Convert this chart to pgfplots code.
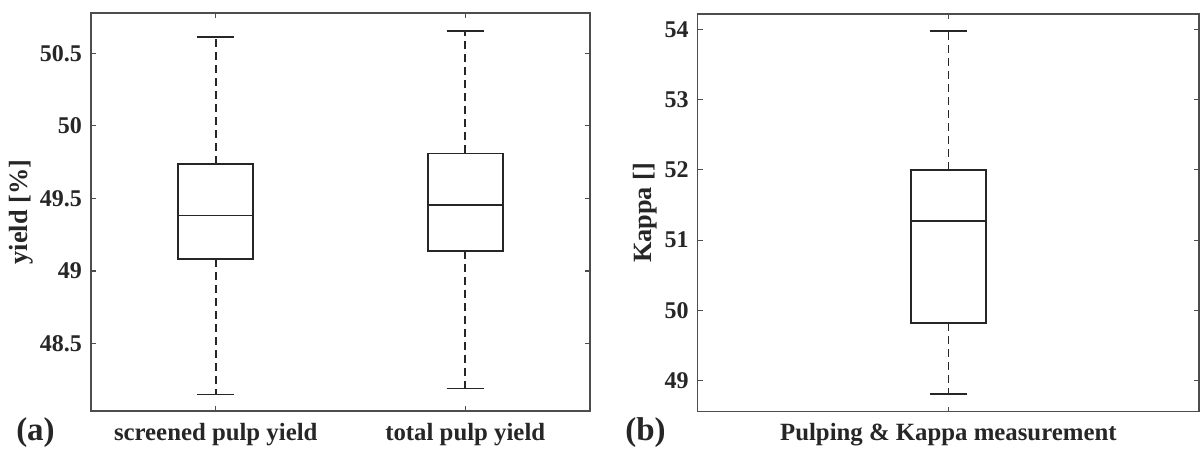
\documentclass[border=0pt]{standalone}
\usepackage{pgfplots}
\pgfplotsset{compat=1.18}
\usepgfplotslibrary{statistics}
\usepackage{fontspec}
\setmainfont{Liberation Serif}
\definecolor{axgray}{HTML}{4D4D4D}
\definecolor{txt}{HTML}{262626}
\pgfplotsset{
  mybox/.style={
    boxplot/draw direction=y,
    boxplot/every box/.style={draw=black!85, line width=1.8pt},
    boxplot/every median/.style={draw=black!85, line width=1.8pt},
    boxplot/draw/lower whisker/.code={%
      \draw[black!85, line width=1.7pt, dash pattern=on 8pt off 5pt]
        (boxplot cs:\pgfplotsboxplotvalue{lower quartile}) -- (boxplot cs:\pgfplotsboxplotvalue{lower whisker});
      \draw[black!85, line width=1.7pt]
        (boxplot whisker cs:\pgfplotsboxplotvalue{lower whisker},0) -- (boxplot whisker cs:\pgfplotsboxplotvalue{lower whisker},1);
    },
    boxplot/draw/upper whisker/.code={%
      \draw[black!85, line width=1.7pt, dash pattern=on 8pt off 5pt]
        (boxplot cs:\pgfplotsboxplotvalue{upper quartile}) -- (boxplot cs:\pgfplotsboxplotvalue{upper whisker});
      \draw[black!85, line width=1.7pt]
        (boxplot whisker cs:\pgfplotsboxplotvalue{upper whisker},0) -- (boxplot whisker cs:\pgfplotsboxplotvalue{upper whisker},1);
    },
  },
  myaxis/.style={
    anchor=south west,
    scale only axis,
    tick pos=both,
    tick align=inside,
    major tick length=5pt,
    axis line style={axgray, line width=1.2pt},
    every tick/.style={axgray, line width=1.1pt},
    /pgf/number format/assume math mode=true,
    yticklabel style={font=\fontsize{24}{28}\selectfont\bfseries, text=txt, inner sep=0pt, xshift=-9pt},
    xticklabel style={font=\fontsize{24.8}{30}\selectfont\bfseries, text=txt, anchor=base, yshift=-29pt},
    label style={font=\fontsize{26.3}{30}\selectfont\bfseries, text=txt},
  },
}
\begin{document}
\begin{tikzpicture}
\useasboundingbox (0,0) rectangle (1201pt,450pt);
\begin{axis}[myaxis, mybox,
  at={(91pt,39pt)}, width=499pt, height=398pt,
  xmin=0.5, xmax=2.5, ymin=48.035, ymax=50.778,
  xtick={1,2}, xticklabels={screened pulp yield, total pulp yield},
  ytick={48.5,49,49.5,50,50.5},
  boxplot/box extend=0.3, boxplot/whisker extend=0.15,
  ylabel={yield [\%]},
  ylabel style={at={(axis description cs:-0.139,0.5)}, anchor=center, rotate=0},
]
\addplot[black, boxplot prepared={draw position=1,
  lower whisker=48.148, lower quartile=49.083, median=49.383,
  upper quartile=49.736, upper whisker=50.612}] coordinates {};
\addplot[black, boxplot prepared={draw position=2,
  lower whisker=48.19, lower quartile=49.14, median=49.457,
  upper quartile=49.81, upper whisker=50.654}] coordinates {};
\end{axis}
\begin{axis}[myaxis, mybox,
  at={(697.7pt,38.3pt)}, width=501.3pt, height=397.7pt,
  xmin=0.5, xmax=1.5, ymin=48.552, ymax=54.224,
  xtick={1}, xticklabels={Pulping \& Kappa measurement},
  ytick={49,50,51,52,53,54},
  boxplot/box extend=0.15, boxplot/whisker extend=0.073,
  ylabel={Kappa []},
  ylabel style={at={(axis description cs:-0.105,0.5)}, anchor=center, rotate=0},
]
\addplot[black, boxplot prepared={draw position=1,
  lower whisker=48.8, lower quartile=49.815, median=51.271,
  upper quartile=52.004, upper whisker=53.977}] coordinates {};
\end{axis}
\node[font=\fontsize{33}{36}\selectfont\bfseries, text=txt, anchor=base] at (35.5pt,10pt) {(a)};
\node[font=\fontsize{33}{36}\selectfont\bfseries, text=txt, anchor=base] at (645.5pt,10pt) {(b)};
\end{tikzpicture}
\end{document}
